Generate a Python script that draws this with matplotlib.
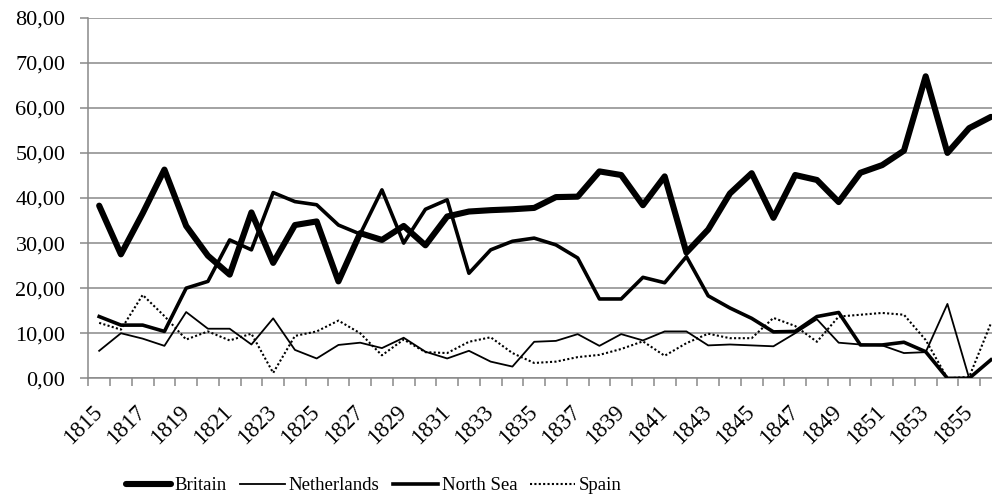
import numpy as np
import matplotlib
matplotlib.use("Agg")
import matplotlib.pyplot as plt
from matplotlib.ticker import FixedLocator, FuncFormatter

years = list(range(1815, 1857))

britain = [38.3, 27.5, 36.6, 46.3, 33.8, 27.2, 23.0, 36.8, 25.6, 34.0,
           34.8, 21.5, 32.2, 30.7, 33.8, 29.5, 35.9, 37.0, 37.3, 37.5,
           37.8, 40.2, 40.3, 45.9, 45.1, 38.4, 44.8, 27.9, 33.0, 41.0,
           45.5, 35.6, 45.1, 44.0, 39.1, 45.6, 47.3, 50.5, 67.0, 50.0,
           55.5, 58.0]

netherlands = [6.1, 10.0, 8.8, 7.2, 14.7, 11.0, 11.0, 7.5, 13.3, 6.3,
               4.4, 7.4, 7.9, 6.7, 9.0, 5.9, 4.4, 6.1, 3.7, 2.6,
               8.1, 8.3, 9.8, 7.2, 9.8, 8.4, 10.4, 10.4, 7.3, 7.5,
               7.3, 7.1, 10.0, 13.1, 7.9, 7.5, 7.3, 5.6, 5.8, 16.5,
               0.0, np.nan]

north_sea = [13.7, 11.8, 11.8, 10.4, 20.0, 21.5, 30.7, 28.5, 41.2, 39.2,
             38.5, 34.0, 32.0, 41.8, 30.0, 37.5, 39.6, 23.3, 28.5, 30.4,
             31.1, 29.6, 26.7, 17.6, 17.6, 22.4, 21.2, 27.0, 18.3, 15.6,
             13.3, 10.3, 10.4, 13.7, 14.6, 7.4, 7.4, 8.0, 5.9, 0.0,
             0.0, 4.1]

spain = [12.3, 10.8, 18.5, 13.8, 8.6, 10.4, 8.4, 9.9, 1.2, 9.4,
         10.4, 12.8, 10.0, 5.1, 8.6, 5.8, 5.6, 8.1, 9.1, 5.6,
         3.4, 3.7, 4.7, 5.2, 6.5, 8.2, 5.0, 7.8, 9.9, 8.9,
         8.9, 13.4, 11.6, 8.1, 13.7, 14.1, 14.5, 14.1, 8.5, 0.0,
         0.3, 12.2]

series_names = ["Britain", "Netherlands", "North Sea", "Spain"]
y_ticks = [0, 10, 20, 30, 40, 50, 60, 70, 80]

plt.rcParams['font.family'] = ['Liberation Serif', 'DejaVu Serif']

W, H = 992, 498
fig = plt.figure(figsize=(W / 100, H / 100), dpi=100)
left = 88.3 / W
right = 1001.8 / W
bottom = 1 - 378.3 / H
top = 1 - 17.7 / H
ax = fig.add_axes([left, bottom, right - left, top - bottom])

x = np.arange(len(years))
grid_c = '#898989'

l1, = ax.plot(x, britain, color='black', lw=4.4, solid_capstyle='round',
              solid_joinstyle='round', zorder=3, label=series_names[0])
l2, = ax.plot(x, netherlands, color='black', lw=1.3, zorder=4,
              solid_joinstyle='round', label=series_names[1])
l3, = ax.plot(x, north_sea, color='black', lw=2.6, zorder=5,
              solid_joinstyle='round', label=series_names[2])
l4, = ax.plot(x, spain, color='black', lw=1.5, linestyle=(0, (1, 1.1)),
              zorder=6, label=series_names[3])

ax.set_xlim(-0.5, len(years) - 0.5)
ax.set_ylim(0, 80)
ax.set_yticks(y_ticks)
ax.yaxis.set_major_formatter(FuncFormatter(lambda v, p: f"{v:.2f}".replace('.', ',')))
ax.grid(axis='y', color=grid_c, lw=1.1, zorder=0)
ax.set_axisbelow(True)

label_pos = [i for i in x if i % 2 == 0]
ax.set_xticks(label_pos)
ax.set_xticklabels([str(years[i]) for i in label_pos], rotation=45,
                   ha='right', va='center', rotation_mode='anchor', fontsize=16.5)
ax.tick_params(axis='x', which='major', length=0, pad=22)
ax.xaxis.set_minor_locator(FixedLocator(np.arange(-0.5, len(years), 1.0)))
ax.tick_params(axis='x', which='minor', length=5.5, width=1.1, color=grid_c)
ax.tick_params(axis='y', which='major', length=5.5, width=1.1, color=grid_c,
               labelsize=16, pad=11)

for s in ['top', 'right']:
    ax.spines[s].set_visible(False)
for s in ['left', 'bottom']:
    ax.spines[s].set_color(grid_c)
    ax.spines[s].set_linewidth(1.1)

fig.legend(handles=[l1, l2, l3, l4], loc='center',
           bbox_to_anchor=(374 / W, 0.025), ncol=4, frameon=False,
           fontsize=13.5, handlelength=2.4, handletextpad=0.2,
           columnspacing=0.7)

fig.savefig('out.png', dpi=100)
